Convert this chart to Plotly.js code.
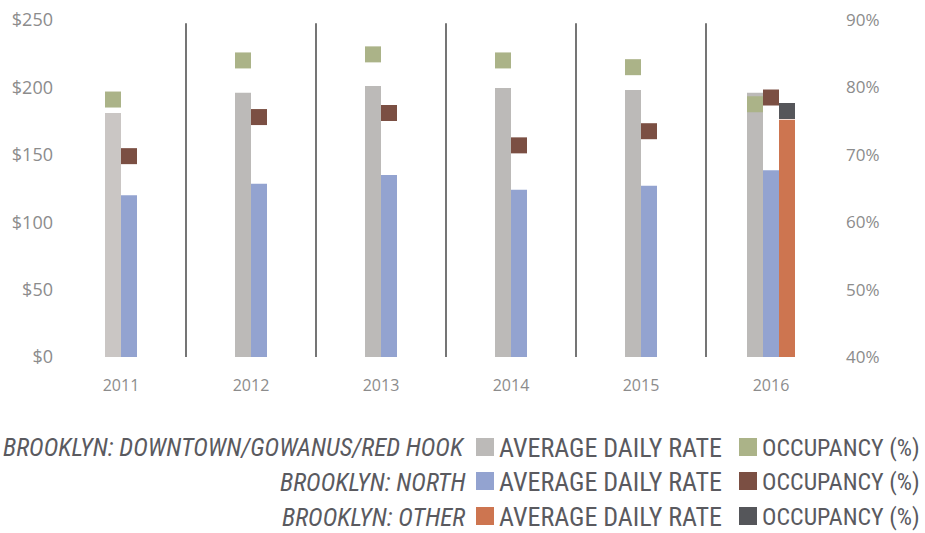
<!DOCTYPE html>
<html>
<head>
<meta charset="utf-8">
<script src="https://cdn.plot.ly/plotly-3.0.1.min.js"></script>
<style>
  html, body { margin: 0; padding: 0; background: #fff; }
  #chart { width: 925px; height: 533px; }
</style>
</head>
<body>
<div id="chart"></div>
<script>
// ---------- data ----------
const years = ['2011', '2012', '2013', '2014', '2015', '2016'];

const adrDowntown = [181, 196, 201, 199.5, 198, 196];
const adrNorth    = [120, 128.5, 135, 124, 127, 138.5];
const adrOther    = [null, null, null, null, null, 176];

const occDowntown = [78.2, 84.0, 84.9, 84.0, 83.0, 77.5];
const occNorth    = [69.8, 75.6, 76.2, 71.4, 73.5, 78.5];
const occOther    = [null, null, null, null, null, 76.5];

const groupNames  = ['BROOKLYN: DOWNTOWN/GOWANUS/RED HOOK', 'BROOKLYN: NORTH', 'BROOKLYN: OTHER'];
const metricNames = ['AVERAGE DAILY RATE', 'OCCUPANCY (%)'];

const rateTicks = [0, 50, 100, 150, 200, 250];
const occTicks  = [40, 50, 60, 70, 80, 90];

// ---------- styles ----------
const adrColors = ['#bcbab8', '#93a3d0', '#cd7550'];
const occColors = ['#abb388', '#7b4f43', '#55565a'];
const firstGreyColor = '#cac6c4';
const W = 16 / 130;          // bar width in category units
const tickColor = '#8c8c8c';
const legendColor = '#5a5a5f';
const legendFont = '"Liberation Sans Narrow", "Roboto Condensed", "DejaVu Sans Condensed", sans-serif';

const adrSeries = [adrDowntown, adrNorth, adrOther];
const occSeries = [occDowntown, occNorth, occOther];
const idx = years.map((_, i) => i);

// slot offsets: bars present in a category are centred on it
const offsets = adrSeries.map(() => years.map(() => 0));
years.forEach((_, i) => {
  const present = adrSeries.map(s => s[i] != null);
  const n = present.filter(Boolean).length;
  let k = 0;
  present.forEach((p, s) => {
    if (p) { offsets[s][i] = (k - n / 2) * W; k++; }
  });
});

const traces = [];
adrSeries.forEach((s, si) => {
  const colors = years.map((_, i) => (si === 0 && i === 0) ? firstGreyColor : adrColors[si]);
  traces.push({
    type: 'bar',
    x: idx,
    y: s,
    width: W,
    offset: offsets[si],
    marker: { color: colors, line: { width: 0 } },
    name: groupNames[si] + ' ' + metricNames[0],
    showlegend: false,
    hoverinfo: 'y'
  });
});
occSeries.forEach((s, si) => {
  const xs = [], ys = [];
  s.forEach((v, i) => {
    if (v != null) { xs.push(i + offsets[si][i] + W / 2); ys.push(v); }
  });
  traces.push({
    type: 'scatter',
    mode: 'markers',
    x: xs,
    y: ys,
    yaxis: 'y2',
    marker: { symbol: 'square', size: 16, color: occColors[si], line: { width: 0 } },
    name: groupNames[si] + ' ' + metricNames[1],
    showlegend: false,
    hoverinfo: 'y'
  });
});

// ---------- layout ----------
const M = { l: 56, r: 89, t: 20, b: 176 };
const PW = 925 - M.l - M.r, PH = 533 - M.t - M.b;
const px = x => (x - M.l) / PW;
const py = y => (533 - M.b - y) / PH;

const shapes = [];
for (let i = 0; i < years.length - 1; i++) {
  shapes.push({
    type: 'line', xref: 'x', yref: 'paper',
    x0: i + 0.5, x1: i + 0.5, y0: 0, y1: 0.99,
    line: { color: '#1a1a1a', width: 1.2 }
  });
}

const annotations = [];
const rowY = [448, 482, 517];
const sw = 18;
const col1 = 476, col2 = 739;
const lfs = [26, 24];
groupNames.forEach((g, r) => {
  const y = rowY[r];
  annotations.push({
    xref: 'paper', yref: 'paper', x: px(467), y: py(y),
    xanchor: 'right', yanchor: 'middle', showarrow: false,
    text: g,
    font: { family: legendFont, size: 25, color: legendColor, style: 'italic' }
  });
  [col1, col2].forEach((cx, c) => {
    shapes.push({
      type: 'rect', xref: 'paper', yref: 'paper',
      x0: px(cx), x1: px(cx + sw), y0: py(y - sw / 2 - 1), y1: py(y + sw / 2 - 1),
      fillcolor: c === 0 ? adrColors[r] : occColors[r], line: { width: 0 }
    });
    annotations.push({
      xref: 'paper', yref: 'paper', x: px(cx + sw + 3), y: py(y),
      xanchor: 'left', yanchor: 'middle', showarrow: false,
      text: metricNames[c],
      font: { family: legendFont, size: lfs[c], color: legendColor }
    });
  });
});

const layout = {
  width: 925, height: 533,
  margin: M,
  paper_bgcolor: '#ffffff', plot_bgcolor: '#ffffff',
  barmode: 'overlay',
  showlegend: false,
  font: { family: '"Open Sans", sans-serif', color: tickColor },
  xaxis: {
    type: 'linear', range: [-0.5, 5.5],
    tickvals: idx, ticktext: years,
    showgrid: false, zeroline: false, showline: false, ticks: '',
    ticklabelstandoff: 17,
    tickfont: { size: 16, color: tickColor }
  },
  yaxis: {
    range: [0, 250], tickvals: rateTicks, ticktext: rateTicks.map(v => '$' + v),
    showgrid: false, zeroline: false, showline: false, ticks: '',
    ticklabelstandoff: 2,
    tickfont: { size: 18, color: tickColor }
  },
  yaxis2: {
    overlaying: 'y', side: 'right',
    range: [40, 90], tickvals: occTicks, ticktext: occTicks.map(v => v + '%'),
    showgrid: false, zeroline: false, showline: false, ticks: '',
    ticklabelstandoff: 9,
    tickfont: { size: 17, color: tickColor }
  },
  shapes: shapes,
  annotations: annotations
};

Plotly.newPlot('chart', traces, layout, { displayModeBar: false, staticPlot: true });
</script>
</body>
</html>
